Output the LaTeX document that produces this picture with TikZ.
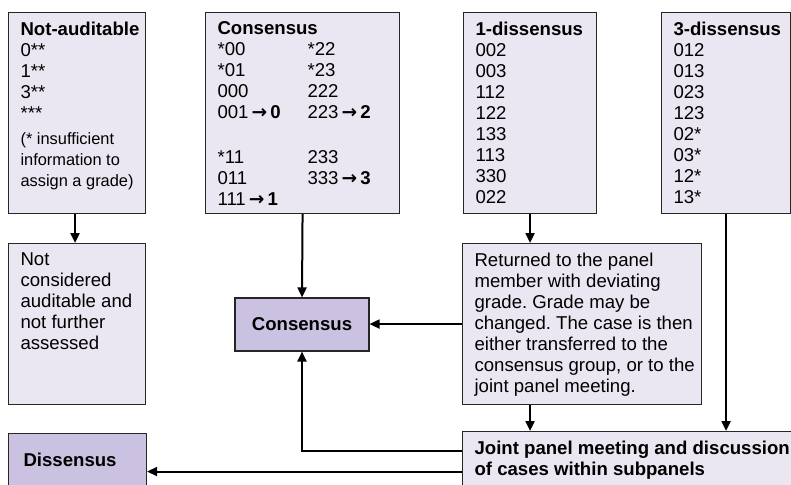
\documentclass[tikz,border=0pt]{standalone}
\usepackage{fontspec}
\setmainfont{Liberation Sans}
\newfontfamily\arrowfont{DejaVu Sans}
\usepackage{tikz}
\usetikzlibrary{arrows.meta}

\definecolor{boxlight}{HTML}{EBE7F2}
\definecolor{boxpurple}{HTML}{CAC2E0}

%text of a box, set from the top
\newcommand{\toptext}[3]{\parbox[t][#1][t]{#2}{\fontsize{18.6}{21}\selectfont\raggedright\frenchspacing\hyphenpenalty=10000\exhyphenpenalty=10000 #3}}
\newcommand{\cola}[1]{\makebox[90pt][l]{#1}}
\newcommand{\goesto}{\,{\arrowfont\bfseries →}\,}

\begin{document}
\begin{tikzpicture}[x = 1pt, y = -1pt,
  box/.style = {draw = black!85, line width = 1.1pt, fill = boxlight, inner xsep = 12pt, inner ysep = 9pt, anchor = north west},
  resultbox/.style = {draw = black!85, line width = 1.1pt, fill = boxpurple, font = \bfseries\fontsize{18.6}{21}\selectfont},
  flow/.style = {-{Triangle[length=10pt, width=9pt]}, line width = 2pt}]
\useasboundingbox (0, 0) rectangle (791, 484);
\clip (0, 0) rectangle (791, 484);

%draw grade lists
\node[box] (notaud) at (8, 12) {\toptext{183pt}{113pt}{\mbox{\textbf{Not-auditable}}\\0**\\1**\\3**\\{}***\\[5pt]{\fontsize{16.4}{20.5}\selectfont \mbox{(* insufficient}\\\mbox{information to}\\\mbox{assign a grade)}}}};
\node[box] (conslist) at (205, 12) {\toptext{183pt}{170pt}{\textbf{Consensus}\\\cola{*00}*22\\\cola{*01}*23\\\cola{000}222\\\cola{001\goesto\textbf{0}}223\goesto\textbf{2}\\[24pt]\cola{*11}233\\\cola{011}333\goesto\textbf{3}\\111\goesto\textbf{1}}};
\node[box] (onelist) at (463, 12) {\toptext{183pt}{109pt}{\mbox{\textbf{1-dissensus}}\\002\\003\\112\\122\\133\\113\\330\\022}};
\node[box] (threelist) at (661, 12) {\toptext{183pt}{105pt}{\mbox{\textbf{3-dissensus}}\\012\\013\\023\\123\\02*\\03*\\12*\\13*}};

%draw steps
\node[box] (notcons) at (8, 243) {\toptext{143pt}{113pt}{Not\\considered\\\mbox{auditable and}\\not further\\assessed}};
\node[box] (returned) at (462, 243) {\toptext{143pt}{215pt}{Returned to the panel\\member with deviating\\grade. Grade may be\\\mbox{changed. The case is then}\\either transferred to the\\\mbox{consensus group, or to the}\\joint panel meeting.}};
\node[box] (joint) at (462, 431) {\toptext{42pt}{330pt}{\bfseries Joint panel meeting and discussion\\of cases within subpanels}};

%draw outcomes
\node[resultbox, minimum width = 134pt, minimum height = 53pt] (consbox) at (302, 324.5) {Consensus};
\node[resultbox, minimum height = 52pt, text width = 108pt, align = left, inner xsep = 15pt, anchor = north west] (dissbox) at (8, 433) {Dissensus};

%draw arrows
\draw[flow] ([xshift=-2pt]notaud.south) -- ([xshift=-2pt]notcons.north);
\draw[flow] (conslist.south) -- (consbox.north);
\draw[flow] (onelist.south) -- (onelist.south |- returned.north);
\draw[flow] (returned.west) -- (returned.west -| consbox.east);
\draw[flow] (returned.south -| onelist.south) -- (joint.north -| onelist.south);
\draw[flow] (threelist.south) -- (threelist.south |- joint.north);
\draw[flow] ([yshift=11pt]joint.west) -| (consbox.south);
\draw[flow] ([yshift=-10pt]joint.west) -- ([yshift=-10pt]joint.west -| dissbox.east);
\end{tikzpicture}
\end{document}
